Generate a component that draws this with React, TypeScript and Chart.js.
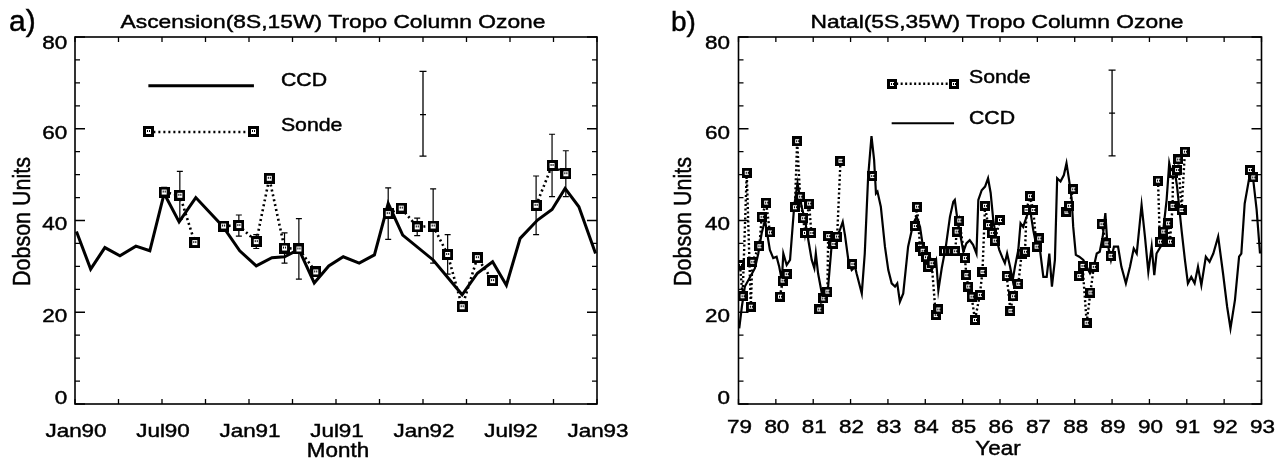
import React, { useEffect, useRef } from 'react';
import { Chart, registerables } from 'chart.js';
Chart.register(...registerables);

const FONT = '"Liberation Sans", Arial, Helvetica, sans-serif';

// ---------------- Panel a) Ascension ----------------
const ascTitle = 'Ascension(8S,15W) Tropo Column Ozone';
const ascCcdMonth = [0.1, 1.08, 2.06, 3.1, 4.2, 5.16, 6.15, 7.18, 8.33, 10.2, 11.36, 12.5, 13.58, 14.45, 15.44, 16.5, 17.5, 18.5, 19.6, 20.65, 21.6, 22.6, 24.7, 26.7, 27.75, 28.8, 29.75, 30.7, 31.9, 32.9, 33.8, 34.75, 35.9];
const ascCcdValue = [37.6, 29.4, 34.1, 32.3, 34.4, 33.4, 45.9, 39.7, 45.0, 38.7, 33.4, 30.1, 31.9, 32.1, 33.7, 26.4, 30.1, 32.1, 30.7, 32.5, 43.7, 36.8, 31.4, 23.8, 28.5, 31.0, 25.9, 36.1, 40.1, 42.4, 47.0, 43.0, 32.8];
const ascSondeMonth = [6.15, 7.23, 8.26, 9.3, 10.25, 11.3, 12.5, 13.4, 14.45, 15.44, 16.6, 19.0, 21.6, 22.5, 23.6, 24.7, 25.7, 26.7, 27.75, 28.8, 30.3, 31.8, 32.9, 33.85];
const ascSondeValue = [46.2, 45.5, 35.2, null, 38.8, 38.9, 35.4, 49.2, 34.0, 33.8, 28.8, null, 41.5, 42.7, 38.6, 38.8, 32.6, 21.2, 31.9, 26.9, null, 43.3, 52.0, 50.2];
const ascSondeErr = [1.0, 5.2, 0, null, 0, 2.3, 1.5, 0, 3.3, 6.6, 0, null, 5.6, 0, 1.9, 8.1, 4.3, 0, 0, 0, null, 6.4, 6.8, 5.0];
const ascXTicks = [0, 3, 6, 9, 12, 15, 18, 21, 24, 27, 30, 33, 36];
const ascXLabelMonths = [0, 6, 12, 18, 24, 30, 36];
const ascXLabels = ['Jan90', 'Jul90', 'Jan91', 'Jul91', 'Jan92', 'Jul92', 'Jan93'];

// ---------------- Panel b) Natal ----------------
const natTitle = 'Natal(5S,35W) Tropo Column Ozone';
const natCcdYear = [79.02, 79.09, 79.17, 79.31, 79.44, 79.53, 79.62, 79.71, 79.84, 79.93, 80.02, 80.09, 80.16, 80.2, 80.29, 80.38, 80.49, 80.58, 80.69, 80.78, 80.87, 80.96, 81.03, 81.07, 81.13, 81.23, 81.31, 81.4, 81.49, 81.58, 81.7, 81.79, 81.85, 81.94, 82.03, 82.12, 82.16, 82.3, 82.38, 82.47, 82.56, 82.63, 82.68, 82.72, 82.81, 82.92, 83.01, 83.1, 83.19, 83.25, 83.32, 83.41, 83.54, 83.68, 83.77, 83.86, 83.95, 84.04, 84.12, 84.21, 84.29, 84.35, 84.44, 84.55, 84.66, 84.75, 84.79, 84.85, 85.02, 85.1, 85.19, 85.28, 85.37, 85.42, 85.51, 85.6, 85.68, 85.75, 85.82, 85.89, 85.98, 86.07, 86.13, 86.19, 86.27, 86.34, 86.4, 86.49, 86.55, 86.62, 86.71, 86.8, 86.89, 86.98, 87.07, 87.16, 87.25, 87.32, 87.39, 87.47, 87.53, 87.62, 87.71, 87.78, 87.85, 87.92, 87.96, 88.03, 88.12, 88.23, 88.32, 88.41, 88.51, 88.59, 88.67, 88.75, 88.82, 88.87, 88.97, 89.05, 89.16, 89.25, 89.37, 89.48, 89.58, 89.66, 89.79, 89.88, 89.97, 90.06, 90.13, 90.19, 90.3, 90.37, 90.46, 90.53, 90.59, 90.66, 90.74, 90.86, 90.95, 91.03, 91.12, 91.21, 91.3, 91.39, 91.51, 91.61, 91.71, 91.84, 91.97, 92.08, 92.17, 92.29, 92.4, 92.46, 92.55, 92.67, 92.78, 92.87, 92.96];
const natCcdValue = [16.5, 21.2, 25.6, 27.7, 29.6, 32.8, 37.2, 40.1, 33.6, 31.8, 32.1, 29.9, 27.0, 32.8, 30.3, 31.4, 43.0, 48.1, 43.0, 40.1, 35.7, 31.4, 29.6, 32.8, 28.5, 24.1, 22.7, 25.6, 34.3, 36.5, 37.6, 39.7, 36.8, 31.4, 29.2, 29.9, 28.5, 24.1, 32.8, 49.5, 58.4, 53.2, 45.9, 46.3, 43.0, 34.3, 29.2, 26.3, 25.6, 26.3, 22.3, 24.1, 34.3, 39.4, 40.8, 38.6, 33.6, 33.2, 32.1, 29.9, 31.4, 24.8, 29.6, 34.3, 40.8, 44.1, 44.5, 40.8, 33.2, 35.0, 35.7, 34.7, 32.8, 44.5, 46.6, 47.4, 49.2, 46.0, 40.1, 36.5, 33.6, 31.8, 30.7, 32.8, 29.9, 27.0, 29.9, 33.6, 39.4, 38.6, 40.8, 42.7, 37.9, 34.3, 33.6, 27.7, 27.7, 32.8, 25.6, 31.4, 49.2, 48.5, 49.9, 52.5, 48.8, 44.5, 38.6, 32.5, 32.1, 31.4, 29.9, 28.5, 29.9, 32.8, 33.2, 36.5, 41.6, 35.4, 31.4, 34.3, 34.3, 29.9, 26.3, 29.9, 33.9, 32.8, 43.4, 36.5, 28.8, 34.3, 28.1, 32.8, 34.3, 37.9, 44.5, 52.5, 50.3, 51.7, 47.4, 37.9, 31.4, 26.3, 27.7, 26.3, 29.9, 25.9, 32.1, 31.0, 32.8, 36.5, 28.5, 21.2, 16.5, 22.7, 32.1, 32.8, 43.7, 49.2, 48.8, 42.3, 32.8];
const natSondeYear = [79.04, 79.11, 79.22, 79.33, 79.37, 79.56, 79.62, 79.74, 79.84, 80.0, 80.11, 80.18, 80.29, 80.4, 80.51, 80.57, 80.65, 80.73, 80.78, 80.89, 80.95, 81.05, 81.16, 81.27, 81.38, 81.4, 81.54, 81.64, 81.73, 81.9, 82.05, 82.3, 82.58, 83.2, 83.72, 83.78, 83.86, 83.93, 84.02, 84.08, 84.17, 84.28, 84.35, 84.42, 84.5, 84.6, 84.7, 84.8, 84.84, 84.91, 85.06, 85.1, 85.15, 85.24, 85.33, 85.46, 85.53, 85.6, 85.68, 85.78, 85.86, 86.0, 86.1, 86.18, 86.28, 86.35, 86.49, 86.58, 86.67, 86.71, 86.8, 86.89, 86.98, 87.05, 87.4, 87.78, 87.85, 87.96, 88.05, 88.12, 88.21, 88.32, 88.42, 88.51, 88.6, 88.72, 88.85, 88.96, 89.5, 90.23, 90.28, 90.37, 90.5, 90.55, 90.62, 90.63, 90.74, 90.77, 90.86, 90.95, 91.8, 92.69, 92.78];
const natSondeValue = [30.3, 23.5, 50.4, 21.2, 31.0, 34.4, 40.8, 43.9, 37.4, null, 23.4, 26.9, 28.3, null, 42.9, 57.3, 45.2, 40.5, 37.3, 43.7, 37.3, null, 20.6, 23.0, 24.5, 36.6, 34.9, 36.5, 53.0, null, 30.5, null, 49.7, null, 38.8, 43.0, 34.3, 33.4, 32.0, 29.9, 30.7, 19.4, 20.6, null, 33.3, 33.3, 33.3, 33.3, 37.6, 40.0, 31.8, 28.1, 25.6, 23.4, 18.3, 23.8, 28.8, 43.2, 39.0, 37.3, 35.6, 40.1, null, 27.9, 20.3, 23.5, 26.2, 32.8, 33.2, 42.3, 45.3, 42.3, 34.3, 36.1, null, 41.9, 43.2, 46.8, null, 27.9, 30.1, 17.7, 24.3, 29.9, null, 39.2, 35.0, 32.3, null, 48.7, 35.4, 37.6, 39.4, 35.4, 43.2, 50.3, 51.0, 53.3, 42.3, 55.0, null, 51.0, 49.4];
const natXTicks = [79, 80, 81, 82, 83, 84, 85, 86, 87, 88, 89, 90, 91, 92, 93];
const natXLabels = ['79', '80', '81', '82', '83', '84', '85', '86', '87', '88', '89', '90', '91', '92', '93'];

// ---------------- shared y axis ----------------
const yTicks = [0, 5, 10, 15, 20, 25, 30, 35, 40, 45, 50, 55, 60, 65, 70, 75, 80];
const yLabelValues = [0, 20, 40, 60, 80];
const yLabels = ['0', '20', '40', '60', '80'];

type Panel = {
  letter: string; letterX: number; letterSize: number;
  title: string; xTitle: string; xTitleX: number; xTitleBase: number;
  yTitleBaseX: number;
  width: number; pad: { left: number; right: number; top: number; bottom: number };
  xMin: number; xMax: number; xTicks: number[]; xLabelVals: number[]; xLabels: string[]; xLabelBase: number;
  ccdX: number[]; ccdY: number[]; sondeX: number[]; sondeY: (number | null)[]; sondeErr: (number | null)[] | null;
  ccdWidth: number; dotWidth: number; dash: number[]; markSize: number;
  legend: { x1: number; x2: number; textX: number; ccdY: number; sondeY: number };
  errBar: { x: number; top: number; mid: number; bottom: number };
  yLabelGap: number;
};

function txt(ctx: CanvasRenderingContext2D, s: string, x: number, y: number, size: number, align: CanvasTextAlign, sx = 1.15) {
  ctx.save();
  ctx.font = `${size}px ${FONT}`;
  ctx.fillStyle = '#000';
  ctx.strokeStyle = '#000';
  ctx.lineWidth = 0.45;
  ctx.textBaseline = 'alphabetic';
  ctx.textAlign = align;
  ctx.translate(x, y);
  ctx.scale(sx, 1);
  ctx.fillText(s, 0, 0);
  ctx.strokeText(s, 0, 0);
  ctx.restore();
}

function makeMarker(size: number): HTMLCanvasElement {
  const c = document.createElement('canvas');
  c.width = size; c.height = size;
  const g = c.getContext('2d')!;
  g.fillStyle = '#000';
  g.fillRect(0, 0, size, size);
  const b = Math.round(size * 0.28);
  g.fillStyle = '#fff';
  g.fillRect(b, b, size - 2 * b, size - 2 * b);
  g.fillStyle = '#000';
  const m = Math.floor(size / 2);
  g.fillRect(m - 1, m - 1, 1, 2);
  g.fillRect(m + 1, m - 1, 1, 2);
  return c;
}

function makePlugin(p: Panel, mark: HTMLCanvasElement) {
  return {
    id: 'panelDeco',
    beforeDatasetsDraw(chart: any) {
      const ctx: CanvasRenderingContext2D = chart.ctx;
      const xs = chart.scales.x, ys = chart.scales.y;
      ctx.save();
      ctx.strokeStyle = '#000';
      ctx.lineWidth = 1.2;
      if (p.sondeErr) {
        p.sondeErr.forEach((e, i) => {
          const v = p.sondeY[i];
          if (e == null || v == null || e <= 0) return;
          const px = xs.getPixelForValue(p.sondeX[i]);
          const t = ys.getPixelForValue(v + e), b = ys.getPixelForValue(v - e);
          ctx.beginPath();
          ctx.moveTo(px, t); ctx.lineTo(px, b);
          ctx.moveTo(px - 3, t); ctx.lineTo(px + 3, t);
          ctx.moveTo(px - 3, b); ctx.lineTo(px + 3, b);
          ctx.stroke();
        });
      }
      ctx.restore();
    },
    afterDraw(chart: any) {
      const ctx: CanvasRenderingContext2D = chart.ctx;
      const a = chart.chartArea;
      const xs = chart.scales.x, ys = chart.scales.y;
      ctx.save();
      ctx.strokeStyle = '#000';
      // frame
      ctx.lineWidth = 1.6;
      ctx.strokeRect(a.left, a.top, a.right - a.left, a.bottom - a.top);
      // ticks
      ctx.lineWidth = 1.3;
      ctx.beginPath();
      p.xTicks.forEach((t) => {
        const px = xs.getPixelForValue(t);
        ctx.moveTo(px, a.bottom); ctx.lineTo(px, a.bottom - 5);
        ctx.moveTo(px, a.top); ctx.lineTo(px, a.top + 5);
      });
      yTicks.forEach((t) => {
        const py = ys.getPixelForValue(t);
        const len = t % 20 === 0 ? 10 : 5;
        ctx.moveTo(a.left, py); ctx.lineTo(a.left + len, py);
        ctx.moveTo(a.right, py); ctx.lineTo(a.right - len, py);
      });
      ctx.stroke();
      // y labels
      yLabelValues.forEach((v, i) => {
        let c = ys.getPixelForValue(v) + 3;
        c = Math.max(a.top + 5, Math.min(a.bottom - 6.5, c));
        txt(ctx, yLabels[i], a.left - p.yLabelGap, c + 6.8, 19, 'right', 1.18);
      });
      // x labels
      p.xLabelVals.forEach((v, i) => {
        txt(ctx, p.xLabels[i], xs.getPixelForValue(v) + 1, p.xLabelBase, 19, 'center', 1.18);
      });
      // titles
      txt(ctx, p.title, (a.left + a.right) / 2 - 3, 28, 19, 'center', 1.2);
      txt(ctx, p.letter, p.letterX, 31, p.letterSize, 'left', 1.0);
      txt(ctx, p.xTitle, p.xTitleX, p.xTitleBase, 20, 'center', 1.12);
      ctx.save();
      ctx.translate(p.yTitleBaseX, (a.top + a.bottom) / 2 + 1);
      ctx.rotate(-Math.PI / 2);
      ctx.scale(1, 1.15);
      ctx.font = `21.5px ${FONT}`;
      ctx.fillStyle = '#000';
      ctx.strokeStyle = '#000';
      ctx.lineWidth = 0.45;
      ctx.textAlign = 'center';
      ctx.textBaseline = 'alphabetic';
      ctx.fillText('Dobson Units', 0, 0);
      ctx.strokeText('Dobson Units', 0, 0);
      ctx.restore();
      // legend
      const L = p.legend;
      const lx1 = xs.getPixelForValue(L.x1), lx2 = xs.getPixelForValue(L.x2), ltx = xs.getPixelForValue(L.textX);
      const lcy = ys.getPixelForValue(L.ccdY), lsy = ys.getPixelForValue(L.sondeY);
      ctx.lineWidth = p.ccdWidth;
      ctx.beginPath(); ctx.moveTo(lx1, lcy); ctx.lineTo(lx2, lcy); ctx.stroke();
      txt(ctx, 'CCD', ltx, lcy + 0.5, 18.5, 'left', 1.15);
      ctx.save();
      ctx.lineWidth = p.dotWidth;
      ctx.setLineDash(p.dash);
      ctx.beginPath(); ctx.moveTo(lx1, lsy); ctx.lineTo(lx2, lsy); ctx.stroke();
      ctx.restore();
      const hs = mark.width / 2;
      ctx.drawImage(mark, Math.round(lx1 - hs), Math.round(lsy - hs));
      ctx.drawImage(mark, Math.round(lx2 - hs), Math.round(lsy - hs));
      txt(ctx, 'Sonde', ltx, lsy - 0.5, 18.5, 'left', 1.15);
      // representative error bar
      const E = p.errBar;
      const ex = xs.getPixelForValue(E.x);
      const et = ys.getPixelForValue(E.top), em = ys.getPixelForValue(E.mid), eb = ys.getPixelForValue(E.bottom);
      ctx.lineWidth = 1.3;
      ctx.beginPath();
      ctx.moveTo(ex, et); ctx.lineTo(ex, eb);
      ctx.moveTo(ex - 3.5, et); ctx.lineTo(ex + 3.5, et);
      ctx.moveTo(ex - 3.5, eb); ctx.lineTo(ex + 3.5, eb);
      ctx.moveTo(ex - 3, em); ctx.lineTo(ex + 3, em);
      ctx.stroke();
      ctx.restore();
    },
  };
}

const panelA: Panel = {
  letter: 'a)', letterX: 9, letterSize: 30,
  title: ascTitle, xTitle: 'Month', xTitleX: 338, xTitleBase: 457,
  yTitleBaseX: 30,
  width: 640, pad: { left: 75, right: 43, top: 37, bottom: 58 },
  xMin: 0, xMax: 36, xTicks: ascXTicks, xLabelVals: ascXLabelMonths, xLabels: ascXLabels, xLabelBase: 436.5,
  ccdX: ascCcdMonth, ccdY: ascCcdValue, sondeX: ascSondeMonth, sondeY: ascSondeValue, sondeErr: ascSondeErr,
  ccdWidth: 3, dotWidth: 2.6, dash: [2, 3], markSize: 11,
  legend: { x1: 5.06, x2: 12.34, textX: 14.2, ccdY: 69.4, sondeY: 59.3 },
  errBar: { x: 24, top: 72.5, mid: 63.1, bottom: 54.05 },
  yLabelGap: 7.7,
};

const panelB: Panel = {
  letter: 'b)', letterX: 31, letterSize: 28,
  title: natTitle, xTitle: 'Year', xTitleX: 358, xTitleBase: 455,
  yTitleBaseX: 51,
  width: 647, pad: { left: 98.5, right: 25.5, top: 37, bottom: 58 },
  xMin: 79, xMax: 93, xTicks: natXTicks, xLabelVals: natXTicks, xLabels: natXLabels, xLabelBase: 433,
  ccdX: natCcdYear, ccdY: natCcdValue, sondeX: natSondeYear, sondeY: natSondeValue, sondeErr: null,
  ccdWidth: 2.2, dotWidth: 2.4, dash: [2, 2.5], markSize: 10,
  legend: { x1: 83.1, x2: 84.77, textX: 85.17, ccdY: 61.2, sondeY: 69.8 },
  errBar: { x: 89.0, top: 72.8, mid: 63.4, bottom: 54.1 },
  yLabelGap: 8.5,
};

function PanelChart({ p, left }: { p: Panel; left: number }) {
  const ref = useRef<HTMLCanvasElement | null>(null);
  useEffect(() => {
    if (!ref.current) return;
    const mark = makeMarker(p.markSize);
    const ccd = p.ccdX.map((x, i) => ({ x, y: p.ccdY[i] }));
    const sonde = p.sondeX.map((x, i) => ({ x, y: p.sondeY[i] }));
    const chart = new Chart(ref.current, {
      type: 'line',
      data: {
        datasets: [
          {
            label: 'Sonde', data: sonde as any, order: 0,
            borderColor: '#000', borderWidth: p.dotWidth, borderDash: p.dash,
            pointStyle: mark as any, pointRadius: p.markSize / 2,
            spanGaps: false, tension: 0,
          },
          {
            label: 'CCD', data: ccd as any, order: 1,
            borderColor: '#000', borderWidth: p.ccdWidth, pointRadius: 0, tension: 0,
            borderJoinStyle: 'miter' as any,
          },
        ],
      },
      options: {
        animation: false,
        responsive: false,
        devicePixelRatio: 1,
        layout: { padding: p.pad },
        plugins: { legend: { display: false }, tooltip: { enabled: false }, title: { display: false } },
        scales: {
          x: { type: 'linear', min: p.xMin, max: p.xMax, display: false },
          y: { type: 'linear', min: 0, max: 80, display: false },
        },
        events: [],
      },
      plugins: [makePlugin(p, mark) as any],
    });
    return () => chart.destroy();
  }, [p]);
  return (
    <canvas ref={ref} width={p.width} height={462}
      style={{ position: 'absolute', left, top: 0, width: p.width, height: 462 }} />
  );
}

export default function App() {
  return (
    <div style={{ position: 'absolute', left: 0, top: 0, width: 1287, height: 462, background: '#fff', overflow: 'hidden' }}>
      <PanelChart p={panelA} left={0} />
      <PanelChart p={panelB} left={640} />
    </div>
  );
}
